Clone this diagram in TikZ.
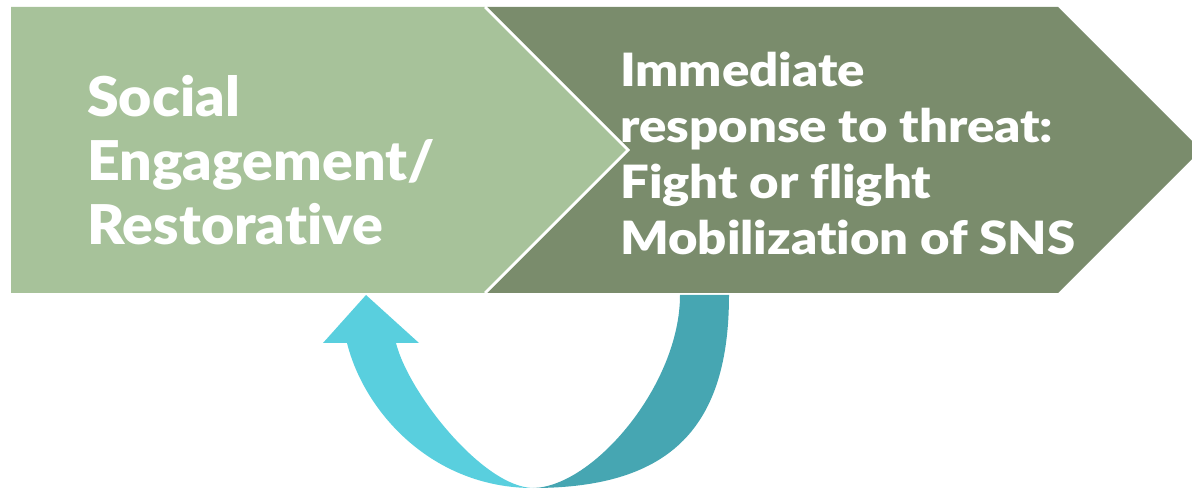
\documentclass[tikz,border=0pt]{standalone}
\usepackage{fontspec}
\setmainfont{Lato}
\newfontfamily\heavyleft{Lato Black}[Ligatures=NoCommon, FakeStretch=1.045]
\newfontfamily\heavyright{Lato Black}[Ligatures=NoCommon, FakeStretch=1.11]
\definecolor{calmgreen}{RGB}{167,194,154}
\definecolor{alertgreen}{RGB}{122,140,108}
\definecolor{returncyan}{RGB}{89,207,222}
\definecolor{returnteal}{RGB}{70,166,178}
\begin{document}
\begin{tikzpicture}[x=1bp,y=-1bp,
  calmtext/.style={anchor=base west, inner sep=0pt, text=white,
    font=\heavyleft\fontsize{55}{64}\selectfont},
  alerttext/.style={anchor=base west, inner sep=0pt, text=white,
    font=\heavyright\fontsize{46}{56}\selectfont}]
\useasboundingbox (0,0) rectangle (1192,489);
\clip (0,0) rectangle (1192,489);

% second stage: notched chevron
\fill[alertgreen] (487,7) -- (1058,7) -- (1201,150) -- (1058,293)
  -- (487,293) -- (630,150) -- cycle;
% first stage: pentagon arrow with a white seam along its point
\fill[calmgreen] (11,7) -- (485,7) -- (628,150) -- (485,293) -- (11,293) -- cycle;
\draw[white, line width=2.5bp, line join=miter] (485,7) -- (628,150) -- (485,293);

% return arrow: right half of the loop
\fill[returnteal] (729,295) .. controls (729,425) and (673,488) .. (533,488)
  .. controls (593,487) and (680,385) .. (680,295) -- cycle;
% return arrow: left half with the head
\fill[returncyan] (366,295) -- (419,343) -- (396,343)
  .. controls (408.5,393) and (483,487) .. (533,488)
  .. controls (433,488) and (364.5,413) .. (347,343)
  -- (323,343) -- cycle;

% labels
\node[calmtext] (calm1) at (87,117) {Social};
\node[calmtext] (calm2) at (87,181) {Engagement/};
\node[calmtext] (calm3) at (87,245) {Restorative};

\node[alerttext] (alert1) at (620,87) {Immediate};
\node[alerttext] (alert2) at (620,143) {response to threat:};
\node[alerttext] (alert3) at (620,199) {Fight or flight};
\node[alerttext] (alert4) at (620,255) {Mobilization of SNS};
\end{tikzpicture}
\end{document}
